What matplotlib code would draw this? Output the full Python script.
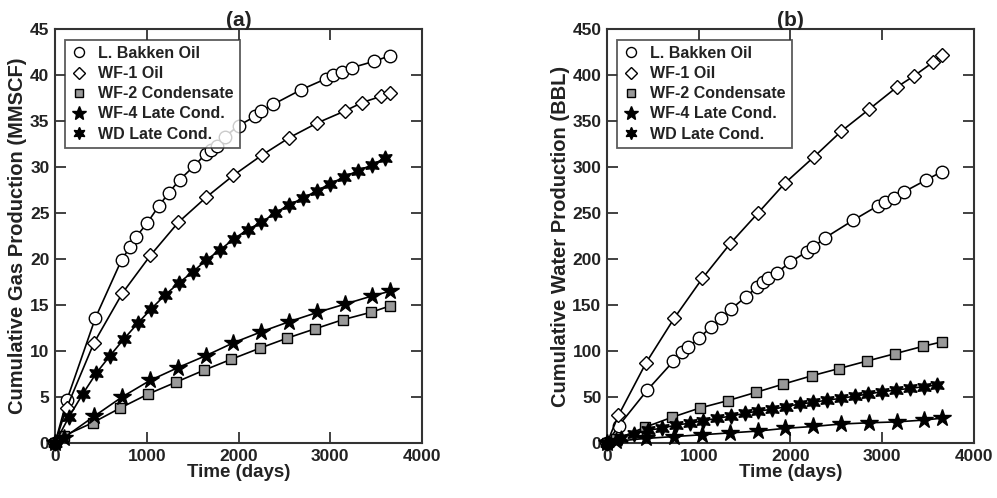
import matplotlib.pyplot as plt

plt.rcParams['font.family'] = ['Liberation Sans', 'DejaVu Sans']
plt.rcParams['font.weight'] = 'bold'

# === Data (time in days) ===
series_names = ["L. Bakken Oil", "WF-1 Oil", "WF-2 Condensate", "WF-4 Late Cond.", "WD Late Cond."]

bakken_t = [0, 130, 440, 725, 817, 883, 1003, 1134, 1240, 1357, 1515, 1640, 1705, 1760, 1853,
            2000, 2180, 2250, 2376, 2681, 2954, 3035, 3128, 3237, 3480, 3651]
bakken_gas = [0, 4.7, 13.6, 19.9, 21.3, 22.4, 23.9, 25.8, 27.2, 28.6, 30.1, 31.4, 31.8, 32.3, 33.3,
              34.5, 35.5, 36.1, 36.8, 38.4, 39.6, 40.0, 40.3, 40.8, 41.5, 42.1]
bakken_water = [0, 19, 57.6, 89, 99, 104, 114, 126, 136, 146, 159, 170, 175, 179, 185,
                197, 208, 213, 223, 242, 258, 262, 266, 273, 286, 295]

wf1_t = [0, 125, 425, 735, 1040, 1345, 1646, 1945, 2256, 2555, 2860, 3161, 3346, 3555, 3651]
wf1_gas = [0, 3.8, 10.9, 16.3, 20.4, 24.0, 26.7, 29.1, 31.3, 33.2, 34.8, 36.1, 37.0, 37.7, 38.1]
wf1_water = [0, 30, 87, 136, 179, 217, 250, 283, 311, 339, 363, 387, 399, 414, 422]

wf2_t = [0, 100, 410, 710, 1010, 1315, 1620, 1920, 2230, 2530, 2830, 3135, 3440, 3651]
wf2_gas = [0, 0.8, 2.2, 3.8, 5.3, 6.6, 7.9, 9.1, 10.3, 11.4, 12.4, 13.4, 14.2, 14.9]
wf2_water = [0, 4, 17, 28, 38, 46, 55, 64, 73, 81, 89, 97, 105, 110]

wf4_t = [0, 100, 425, 730, 1035, 1340, 1645, 1945, 2250, 2555, 2860, 3160, 3460, 3651]
wf4_gas = [0, 0.6, 2.9, 5.0, 6.8, 8.2, 9.5, 10.9, 12.1, 13.2, 14.2, 15.1, 16.0, 16.5]
wf4_water = [0, 2, 5, 7, 9, 11, 13, 16, 18, 20.7, 22, 23, 25, 27]

wd_t = [0, 150, 300, 450, 600, 750, 900, 1050, 1200, 1350, 1500, 1650, 1800, 1950, 2100,
        2250, 2400, 2550, 2700, 2850, 3000, 3150, 3300, 3450, 3600]
wd_gas = [0, 2.8, 5.3, 7.6, 9.5, 11.3, 13.0, 14.6, 16.1, 17.4, 18.6, 19.9, 21.0, 22.2, 23.2,
          24.0, 25.0, 25.9, 26.6, 27.4, 28.2, 28.9, 29.6, 30.2, 31.0]
wd_water = [0, 6, 10, 14.1, 16, 19.6, 21.4, 24.3, 26.8, 29.3, 32.2, 34.8, 36.6, 39.5, 42.4,
            44.2, 46.7, 48.5, 51, 53.3, 55.8, 57.6, 59.4, 61.2, 63]

# === Marker styles per series ===
styles = [
    dict(marker="o", mfc="white", ms=9),
    dict(marker="D", mfc="white", ms=7.5),
    dict(marker="s", mfc="#999999", ms=7),
    dict(marker="*", mfc="black", ms=13),
    dict(marker=(6, 1, 0), mfc="black", ms=11),
]

fig = plt.figure(figsize=(9.97, 4.98), dpi=100)
ax_a = fig.add_axes([0.0552, 0.1104, 0.3681, 0.8313])
ax_b = fig.add_axes([0.6088, 0.1104, 0.3681, 0.8313])

panels = [
    (ax_a, [bakken_gas, wf1_gas, wf2_gas, wf4_gas, wd_gas], "Cumulative Gas Production (MMSCF)",
     "(a)", 45, 5),
    (ax_b, [bakken_water, wf1_water, wf2_water, wf4_water, wd_water], "Cumulative Water Production (BBL)",
     "(b)", 450, 50),
]
times = [bakken_t, wf1_t, wf2_t, wf4_t, wd_t]

for ax, ys, ylabel, title, ymax, ystep in panels:
    for name, t, y, st in zip(series_names, times, ys, styles):
        ax.plot(t, y, color="black", linewidth=1.2, marker=st["marker"], markersize=st["ms"],
                markerfacecolor=st["mfc"], markeredgecolor="black", markeredgewidth=1.0,
                label=name, clip_on=False, zorder=3)
    ax.set_xlim(0, 4000)
    ax.set_ylim(0, ymax)
    ax.set_xticks([0, 1000, 2000, 3000, 4000])
    ax.set_yticks(list(range(0, ymax + 1, ystep)))
    ax.tick_params(direction="in", top=True, right=True, length=8, width=1.3,
                   labelsize=12.5, color="#333333", pad=4, labelcolor="#222222")
    for lab in ax.get_xticklabels() + ax.get_yticklabels():
        lab.set_fontweight("bold")
    for sp in ax.spines.values():
        sp.set_linewidth(1.5)
        sp.set_color("#333333")
    ax.set_xlabel("Time (days)", fontsize=13.5, fontweight="bold", labelpad=0, color="#222222")
    ax.set_ylabel(ylabel, fontsize=14.5, fontweight="bold", labelpad=2, color="#222222")
    ax.set_title(title, fontsize=15, fontweight="bold", pad=2, color="#222222")
    leg = ax.legend(loc="upper left", bbox_to_anchor=(0.018, 0.982), frameon=True, fancybox=False,
                    edgecolor="#333333", prop=dict(weight="bold", size=11.5),
                    handlelength=1.0, handletextpad=0.7, labelspacing=0.32, borderpad=0.4,
                    borderaxespad=0.2)
    leg.get_frame().set_linewidth(1.3)
    for txt in leg.get_texts():
        txt.set_color("#222222")
    for line in leg.get_lines():
        line.set_linestyle("none")
        line.set_markersize(line.get_markersize() * 0.8)

fig.savefig("out.png", dpi=100)
